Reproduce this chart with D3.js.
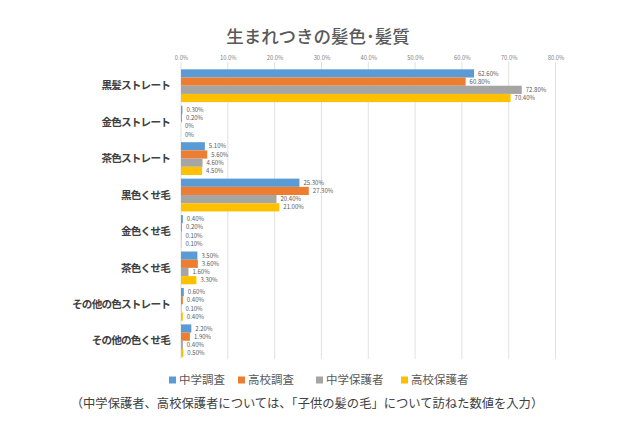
<!DOCTYPE html>
<html><head><meta charset="utf-8">
<script src="https://cdn.jsdelivr.net/npm/d3@7"></script>
<style>body{margin:0;background:#fff}svg{display:block}</style>
</head><body>
<script>
const categories = ["黒髪ストレート","金色ストレート","茶色ストレート","黒色くせ毛","金色くせ毛","茶色くせ毛","その他の色ストレート","その他の色くせ毛"];
const seriesNames = ["中学調査","高校調査","中学保護者","高校保護者"];
const seriesColors = ["#5B9BD5","#ED7D31","#A5A5A5","#FFC000"];
const chugakuChosa = [62.6, 0.3, 5.1, 25.3, 0.4, 3.5, 0.6, 2.2];
const kokoChosa = [60.8, 0.2, 5.6, 27.3, 0.2, 3.6, 0.4, 1.9];
const chugakuHogosha = [72.8, 0, 4.6, 20.4, 0.1, 1.6, 0.1, 0.4];
const kokoHogosha = [70.4, 0, 4.5, 21.0, 0.1, 3.3, 0.4, 0.5];
const xTicks = [0,10,20,30,40,50,60,70,80];
const titleText = "生まれつきの髪色･髪質";
const noteText = "（中学保護者、高校保護者については、「子供の髪の毛」について訪ねた数値を入力）";

const seriesValues = [chugakuChosa, kokoChosa, chugakuHogosha, kokoHogosha];
const W = 640, H = 426;
const font = "'Noto Sans CJK JP','Noto Sans',sans-serif";
const svg = d3.select("body").append("svg").attr("width", W).attr("height", H).style("font-family", font);

const x = d3.scaleLinear().domain([0, 80]).range([181, 555.5]);
const y = d3.scaleBand().domain(categories).range([67.5, 359]).paddingInner(0.1).paddingOuter(0.05);
const ySub = d3.scaleBand().domain(d3.range(4)).range([0, y.bandwidth()]);

// title
svg.append("text").attr("x", 318).attr("y", 43).attr("text-anchor", "middle")
  .attr("font-size", 17.5).attr("font-weight", 500).attr("fill", "#595959").text(titleText);

// gridlines
svg.append("g").selectAll("line").data(xTicks).join("line")
  .attr("x1", d => x(d)).attr("x2", d => x(d)).attr("y1", 62).attr("y2", 359)
  .attr("stroke", "#d9d9d9").attr("stroke-width", 0.8);

// top axis labels
const ax = svg.append("g").attr("transform", "translate(0,60)")
  .call(d3.axisTop(x).tickValues(xTicks).tickSize(0).tickPadding(0).tickFormat(d => d.toFixed(1) + "%"));
ax.select(".domain").remove();
ax.selectAll("text").attr("font-size", 5.8).attr("fill", "#7f7f7f").attr("font-family", font);

// category labels
svg.append("g").selectAll("text").data(categories).join("text")
  .attr("x", 170).attr("y", d => y(d) + y.bandwidth()/2).attr("dy", "0.35em")
  .attr("text-anchor", "end").attr("font-size", 10.6).attr("letter-spacing", -0.8)
  .attr("font-weight", 700).attr("fill", "#404040").text(d => d);

// bars
const groups = svg.append("g").selectAll("g").data(categories).join("g")
  .attr("transform", d => `translate(0,${y(d)})`);
groups.each(function(cat, ci) {
  const g = d3.select(this);
  seriesValues.forEach((vals, si) => {
    const v = vals[ci];
    g.append("rect").attr("x", x(0)).attr("y", ySub(si)).attr("width", x(v) - x(0))
      .attr("height", ySub.bandwidth()).attr("fill", seriesColors[si]);
    g.append("text").attr("x", x(v) + 4).attr("y", ySub(si) + ySub.bandwidth()/2).attr("dy", "0.35em")
      .attr("font-size", 6).attr("fill", "#595959").text(v === 0 ? "0%" : v.toFixed(2) + "%");
  });
});

// legend
const legendX = [169, 238, 316, 401];
const lg = svg.append("g").selectAll("g").data(seriesNames).join("g")
  .attr("transform", (d, i) => `translate(${legendX[i]},380)`);
lg.append("rect").attr("x", 0).attr("y", -3.5).attr("width", 7).attr("height", 7).attr("fill", (d, i) => seriesColors[i]);
lg.append("text").attr("x", 10).attr("y", 0).attr("dy", "0.35em").attr("font-size", 11.5).attr("fill", "#595959").text(d => d);

// footnote
svg.append("text").attr("x", 307).attr("y", 404).attr("dy", "0.35em").attr("text-anchor", "middle")
  .attr("font-size", 12.3).attr("fill", "#404040").text(noteText);
</script>
</body></html>
